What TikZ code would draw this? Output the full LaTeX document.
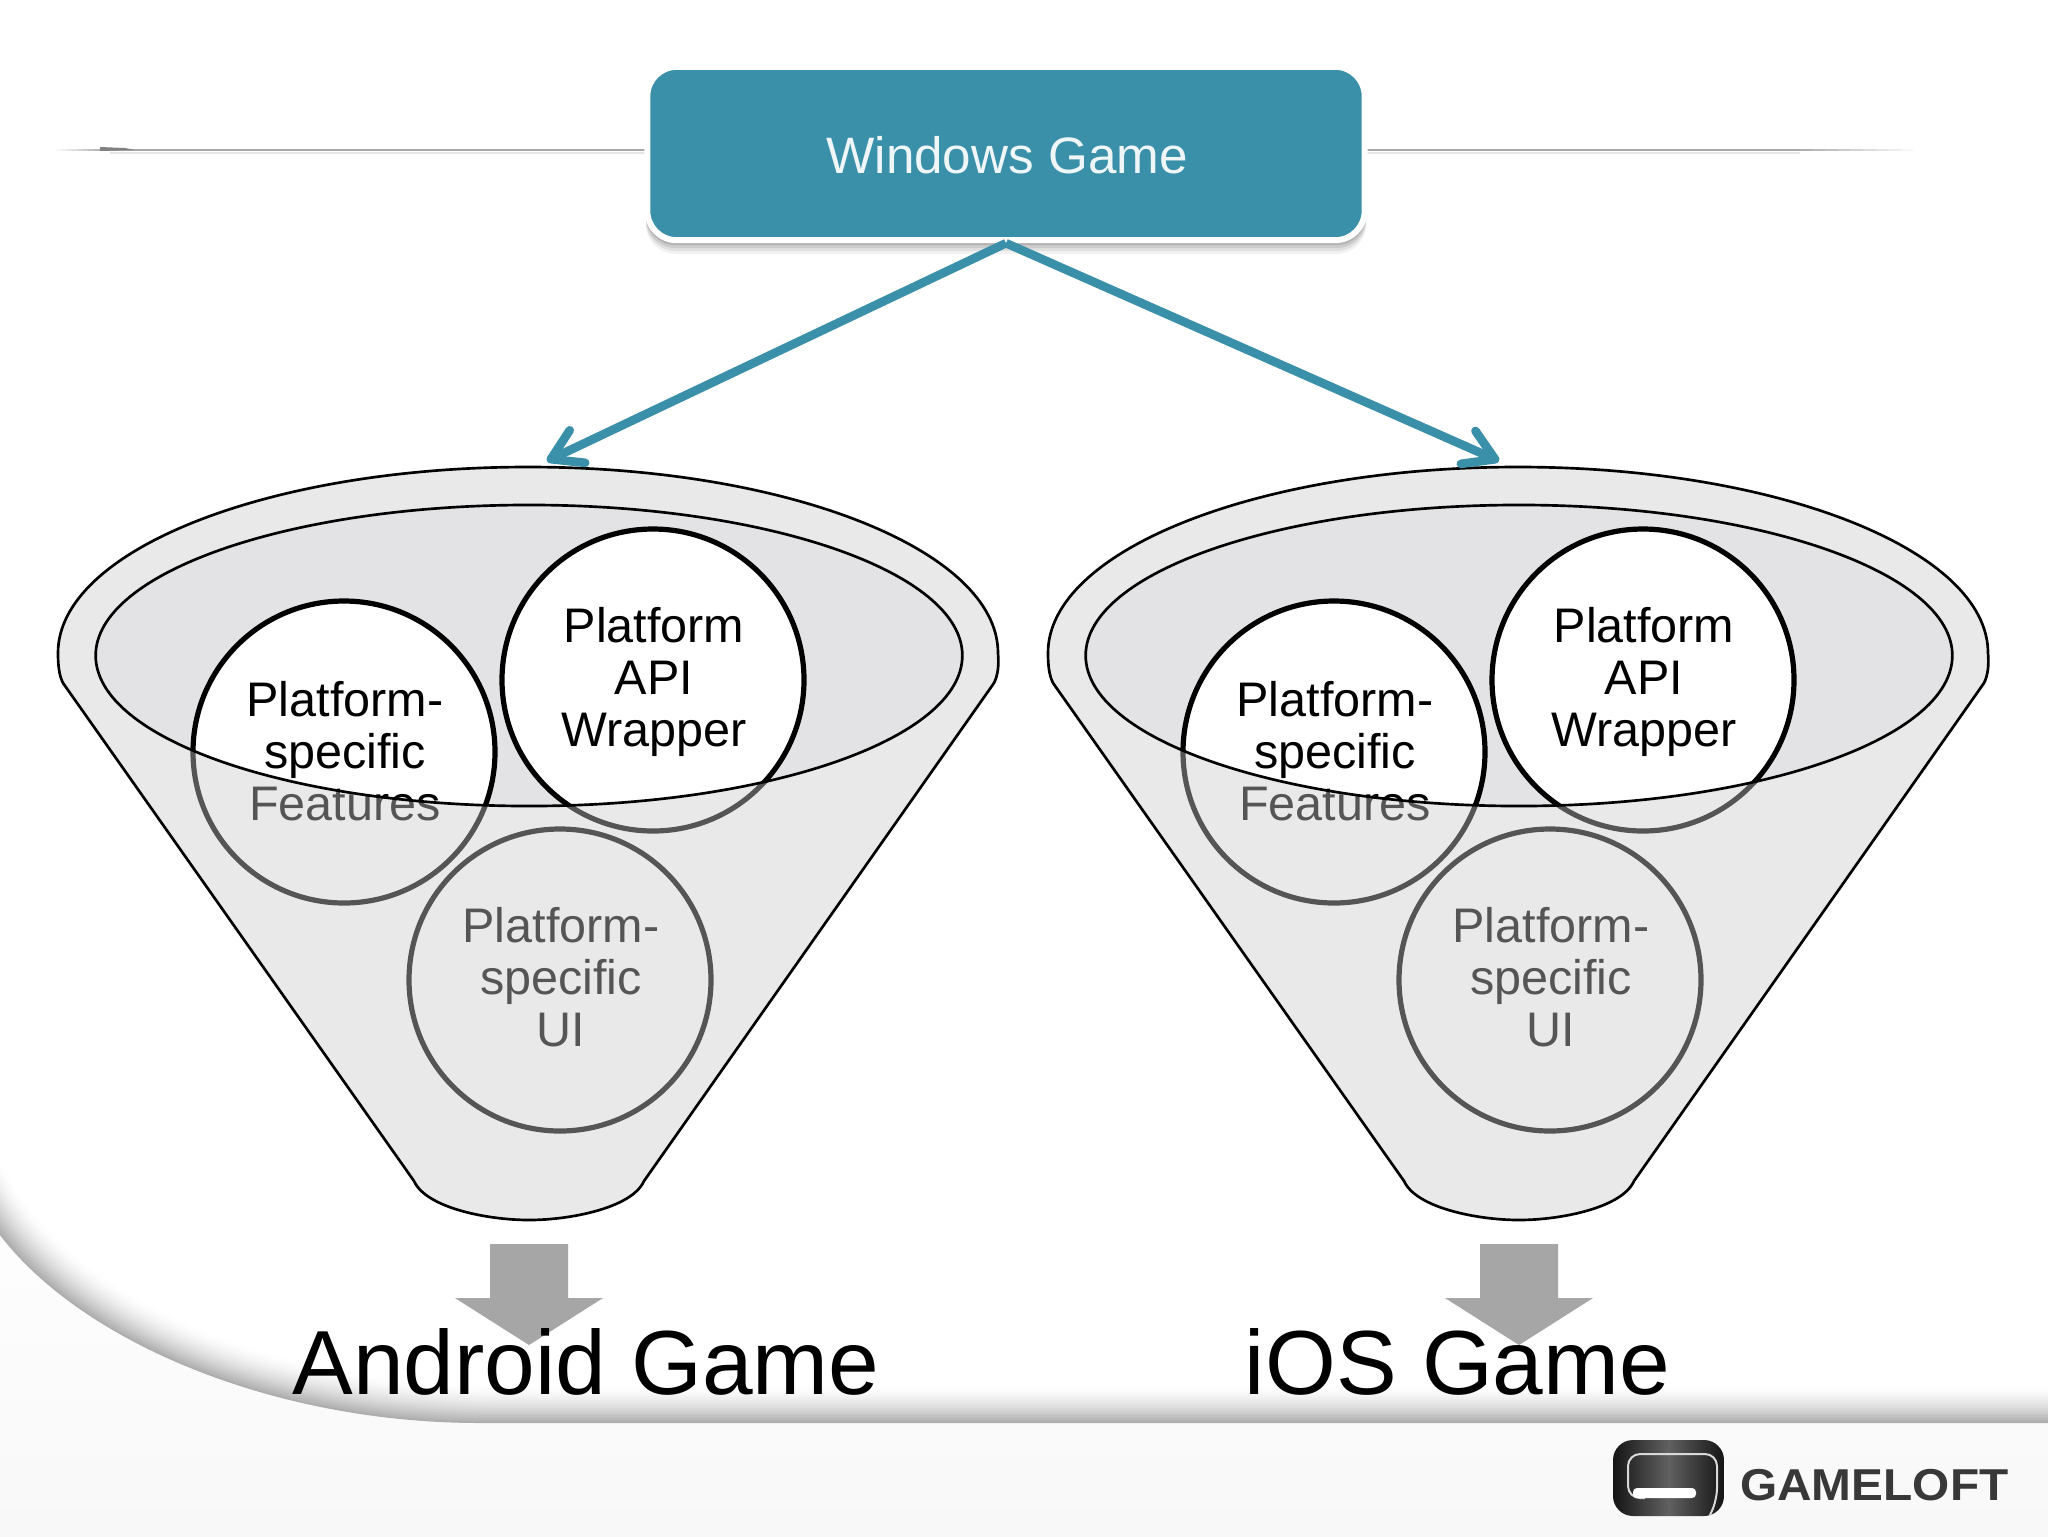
\documentclass[tikz,border=0pt]{standalone}
\usepackage{fontspec}
\setmainfont{Liberation Sans}
\usetikzlibrary{arrows.meta,shadings}
\definecolor{teal}{HTML}{3A90A9}
\definecolor{footer}{HTML}{F8F8F9}
\definecolor{funnelgrey}{RGB}{204,204,206}
\definecolor{innergrey}{HTML}{E3E3E5}
\definecolor{blockgrey}{HTML}{A6A6A6}
\tikzset{
  discnode/.style={circle,draw=black,fill=white,line width=3.9pt,minimum size=226.5pt,inner sep=0pt},
  disctext/.style={align=center,text=black,inner sep=0pt,font=\fontsize{36.4}{38.8}\selectfont},
  funnelline/.style={draw=black,line width=2pt},
  winbox/.style={rectangle,rounded corners=22pt,fill=teal,draw=white,line width=4.5pt,minimum width=538pt,minimum height=130pt},
  teal arrow/.style={draw=teal,line width=6.5pt,-{Straight Barb[length=22pt,width=27pt,line width=6.5pt,round]}},
  gamelabel/.style={anchor=base,text=black,font=\fontsize{68.3}{80}\selectfont},
  blockarrow/.style={fill=blockgrey}
}
\def\funnelpath{(414,1181) -- (63,683) .. controls (59,675) and (58,665) .. (58,653) arc[start angle=180,end angle=0,x radius=352.5pt,y radius=139.5pt] .. controls (999,665) and (998,675) .. (994,683) -- (644,1181) .. controls (632,1208) and (570,1220) .. (529,1220) .. controls (488,1220) and (426,1208) .. (414,1181) -- cycle}
\newcommand\drawfunnel[2]{%
\begin{scope}[xshift=#2]
  \fill[white] \funnelpath;
  \fill[innergrey] (529,655.5) ellipse[x radius=325pt,y radius=112.9pt];
  \node[discnode] (feat#1) at (344,752) {};
  \node[disctext] (feattext#1) at (345,751) {Platform-\\specific\\Features};
  \node[discnode] (api#1) at (653,680) {};
  \node[disctext] (apitext#1) at (654,682) {Platform\\API\\Wrapper};
  \node[discnode] (ui#1) at (560,980) {};
  \node[disctext] (uitext#1) at (561,977) {Platform-\\specific\\UI};
  \fill[funnelgrey,fill opacity=.42,even odd rule] \funnelpath (529,655.5) ellipse[x radius=325pt,y radius=112.9pt];
  \draw[funnelline] \funnelpath;
  \draw[funnelline] (529,655.5) ellipse[x radius=325pt,y radius=112.9pt];
  \fill[blockarrow] (490,1244) -- (568,1244) -- (568,1298) -- (603,1298) -- (529,1345) -- (455,1298) -- (490,1298) -- cycle;
\end{scope}}
\begin{document}
\begin{tikzpicture}[x=.75pt,y=-.75pt]
\useasboundingbox (0,0) rectangle (2048,1536);
% background
\fill[white] (0,0) rectangle (2048,1536);
\shade[top color=white,bottom color=footer] (0,1150) rectangle (2048,1536);
\foreach \t in {0,.04,...,1.001}{
  \pgfmathsetmacro\ya{1235-75*\t}
  \pgfmathsetmacro\xb{80-10*\t}
  \pgfmathsetmacro\yb{1340-40*\t}
  \pgfmathsetmacro\yc{1423-38*\t}
  \pgfmathsetmacro\xd{480+40*\t}
  \pgfmathsetmacro\k{32*(1-\t)^1.7}
  \fill[black!\k!white] (0,\ya) .. controls (\xb,\yb) and (270,\yc) .. (\xd,\yc) -- (2048,\yc) -- (2048,0) -- (0,0) -- cycle;
}
% horizontal rule behind the box
\coordinate (ruleL) at (110,150);
\coordinate (ruleR) at (1800,150);
\foreach \n in {0,...,9}{
  \pgfmathsetmacro\k{3.4*(\n+1)}
  \draw[black!\k,line width=1.9pt] (56+\n*5.4,150) -- (61.4+\n*5.4,150);
  \pgfmathsetmacro\q{34-3.4*(\n+1)}
  \draw[black!\q,line width=1.9pt] (1800+\n*12.6,150) -- (1812.6+\n*12.6,150);
}
\draw[black!34,line width=1.9pt] (ruleL) -- (ruleR);
\draw[black!10,line width=1.5pt] (110,153) -- (1800,153);
\fill[black!50] (100,147) -- (125,148) -- (135,150) -- (100,151) -- cycle;
% box shadow
\foreach \d/\o in {14/.05,11/.07,8/.09,5/.12}{
  \fill[black,fill opacity=\o,rounded corners=22pt] (646,68+\d) rectangle (1366,240+\d);
}
\node[winbox] (win) at (1006,153.5) {};
\node[text=white!92!teal,font=\fontsize{38.4}{46}\selectfont] (wintext) at (1007,155) {Windows Game};
% funnels
\drawfunnel{L}{0pt}
\drawfunnel{R}{742.5pt}
% connectors
\coordinate (tipL) at (547,461);
\coordinate (tipR) at (1499,461);
\draw[teal arrow] (win.south) -- (tipL);
\draw[teal arrow] (win.south) -- (tipR);
% labels
\node[gamelabel] (android) at (586,1394) {Android Game};
\node[gamelabel] (ios) at (1457.5,1394) {iOS Game};
% logo
\shade[left color=black!92,right color=black!92,middle color=black!62,rounded corners=15pt] (1613,1440) rectangle (1724,1516);
\draw[white!85!black,line width=1.5pt,rounded corners=9pt] (1710,1515) -- (1717,1500) -- (1717,1454) -- (1628,1454) -- (1628,1498) -- (1645,1498);
\fill[white,rounded corners=3pt] (1633,1488) rectangle (1696,1498);
\node[anchor=base west,inner sep=0pt,xscale=1.07,text=black!78,font=\fontsize{33.5}{40}\selectfont\bfseries] (logo) at (1740,1500) {GAMELOFT};
\end{tikzpicture}
\end{document}
